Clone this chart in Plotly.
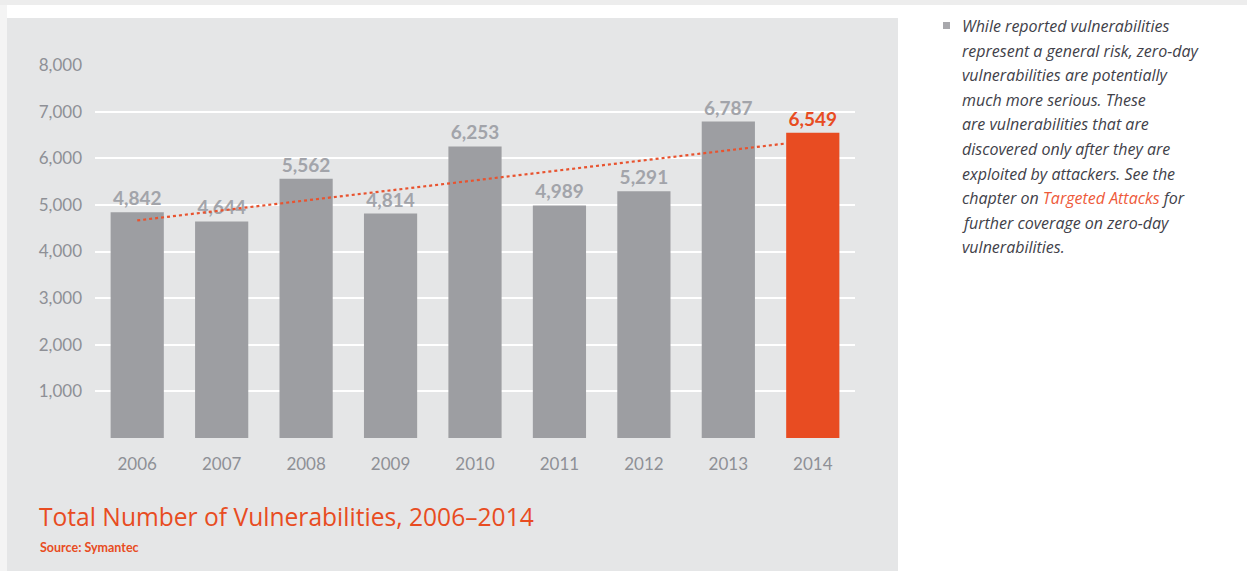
import numpy as np
import plotly.graph_objects as go

# ---- data ----
years = [2006, 2007, 2008, 2009, 2010, 2011, 2012, 2013, 2014]
year_labels = [str(y) for y in years]
vulnerabilities = [4842, 4644, 5562, 4814, 6253, 4989, 5291, 6787, 6549]
y_ticks = [0, 1000, 2000, 3000, 4000, 5000, 6000, 7000, 8000]
y_tick_labels = ["", "1,000", "2,000", "3,000", "4,000", "5,000", "6,000", "7,000", "8,000"]

title_text = "Total Number of Vulnerabilities, 2006\u20132014"
source_text = "Source: Symantec"
side_lines = [
    "While reported vulnerabilities",
    "represent a general risk, zero-day",
    "vulnerabilities are potentially",
    "much more serious. These",
    "are vulnerabilities that are",
    "discovered only after they are",
    "exploited by attackers. See the",
    "chapter on <span style='color:#EE5A3A'>Targeted Attacks</span> for",
    "further coverage on zero-day",
    "vulnerabilities.",
]

# ---- styles ----
W, H = 1247, 571
PANEL = "#E5E6E7"
BAR_GRAY = "#9D9EA2"
ORANGE = "#E84C22"
LABEL_GRAY = "#A2A4AA"
TICK_GRAY = "#8E9096"
TEXT_DARK = "#414149"
BAR_WIDTH = 0.63
FONT = "Lato"
FONT2 = "Open Sans"

L, R, T, B = 95, 392, 65, 133
PW, PH = W - L - R, H - T - B


def xp(px):
    return (px - L) / PW


def yp(py):
    return (H - B - py) / PH


bar_colors = [BAR_GRAY] * (len(years) - 1) + [ORANGE]
label_colors = [LABEL_GRAY] * (len(years) - 1) + [ORANGE]

# linear trend through the data
slope, intercept = np.polyfit(years, vulnerabilities, 1)
trend_x = [years[0], years[-1] - BAR_WIDTH / 2]
trend_y = [slope * x + intercept for x in trend_x]

fig = go.Figure()
fig.add_trace(go.Bar(
    x=years, y=vulnerabilities, width=BAR_WIDTH,
    marker=dict(color=bar_colors, line=dict(width=0)),
    texttemplate="%{y:,}", textposition="outside",
    textfont=dict(family=FONT, size=19, color=label_colors, weight="bold"),
    constraintext="none", cliponaxis=False, hoverinfo="skip",
))
fig.add_trace(go.Scatter(
    x=trend_x, y=trend_y, mode="lines",
    line=dict(color="#E8532F", width=2.2, dash="dot"),
    hoverinfo="skip",
))

shapes = [
    # top strip
    dict(type="rect", xref="paper", yref="paper", x0=xp(0), x1=xp(W), y0=yp(0), y1=yp(5),
         fillcolor="#EDEDED", line=dict(width=0), layer="below"),
    # left shadow
    dict(type="rect", xref="paper", yref="paper", x0=xp(0), x1=xp(7), y0=yp(H), y1=yp(5),
         fillcolor="#F4F4F4", line=dict(width=0), layer="below"),
    # grey panel
    dict(type="rect", xref="paper", yref="paper", x0=xp(7), x1=xp(898), y0=yp(H), y1=yp(18),
         fillcolor=PANEL, line=dict(width=0), layer="below"),
    # bullet square
    dict(type="rect", xref="paper", yref="paper", x0=xp(943), x1=xp(950), y0=yp(29), y1=yp(22),
         fillcolor="#A8A8AC", line=dict(width=0), layer="above"),
]

annotations = [
    dict(text=title_text, xref="paper", yref="paper", x=xp(37), y=yp(516),
         xanchor="left", yanchor="middle", showarrow=False,
         font=dict(family=FONT2, size=24.6, color=ORANGE)),
    dict(text="<b>" + source_text + "</b>", xref="paper", yref="paper", x=xp(38), y=yp(547),
         xanchor="left", yanchor="middle", showarrow=False,
         font=dict(family=FONT, size=12.5, color=ORANGE)),
]
for i, line in enumerate(side_lines):
    annotations.append(dict(
        text="<i>" + line + "</i>", xref="paper", yref="paper",
        x=xp(960), y=yp(26 + i * 24.6), xanchor="left", yanchor="middle",
        showarrow=False, align="left",
        font=dict(family=FONT2, size=16, color=TEXT_DARK, weight=500),
    ))

fig.update_layout(
    width=W, height=H,
    margin=dict(l=L, r=R, t=T, b=B, pad=0),
    paper_bgcolor="white", plot_bgcolor=PANEL,
    showlegend=False,
    shapes=shapes, annotations=annotations,
    xaxis=dict(
        range=[years[0] - 0.5, years[-1] + 0.5],
        tickvals=years, ticktext=year_labels,
        showgrid=False, zeroline=False, showline=False, ticks="",
        tickfont=dict(family=FONT, size=17, color=TICK_GRAY),
        ticklabelstandoff=14,
    ),
    yaxis=dict(
        range=[0, 8000], tickvals=y_ticks, ticktext=y_tick_labels,
        showgrid=True, gridcolor="white", gridwidth=2,
        zeroline=False, showline=False, ticks="",
        tickfont=dict(family=FONT, size=17, color=TICK_GRAY),
        ticklabelstandoff=12,
    ),
)

fig.write_html("out.html")
